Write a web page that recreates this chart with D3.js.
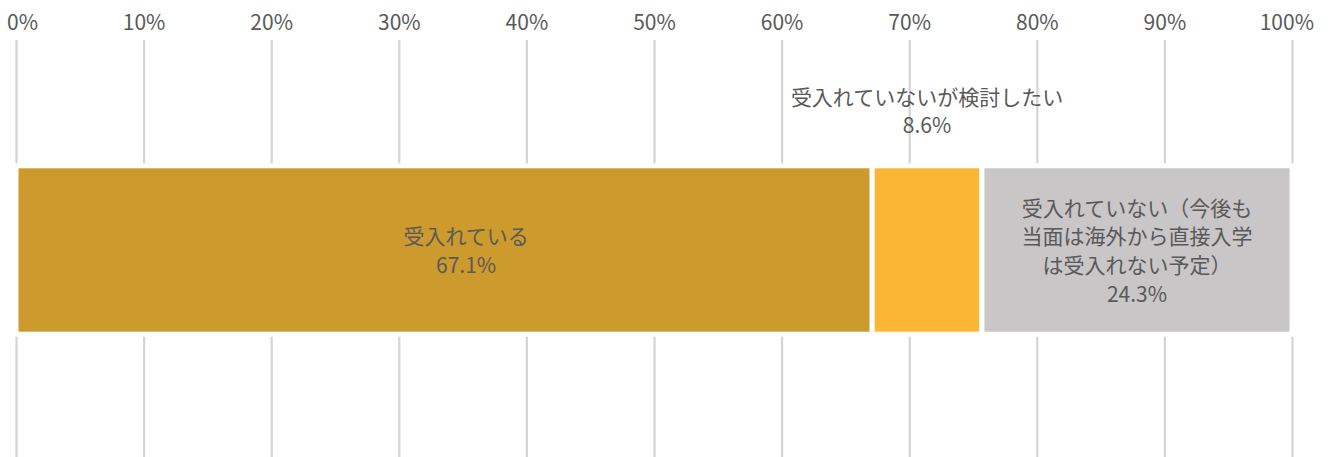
<!DOCTYPE html>
<html lang="ja">
<head>
<meta charset="utf-8">
<script src="https://cdn.jsdelivr.net/npm/d3@7"></script>
<style>
  html, body { margin: 0; padding: 0; background: #fff; }
  svg { display: block; font-family: "Noto Sans CJK JP", "Noto Sans", sans-serif; }
</style>
</head>
<body>
<svg id="chart" width="1330" height="457"></svg>
<script>
// Survey answers (one stacked 100% bar)
const categories = [
  "受入れている",
  "受入れていないが検討したい",
  "受入れていない（今後も当面は海外から直接入学は受入れない予定）"
];
const labelLines = [
  ["受入れている"],
  ["受入れていないが検討したい"],
  ["受入れていない（今後も", "当面は海外から直接入学", "は受入れない予定）"]
];
const values = [67.1, 8.6, 24.3];
const tickValues = [0, 10, 20, 30, 40, 50, 60, 70, 80, 90, 100];
const tickLabels = tickValues.map(d => d + "%");

// Styling / layout
const colors = ["#CD9A2D", "#FBB733", "#C8C6C7"];
const textColor = "#595959";
const gridColor = "#D4D4D4";
const fontSize = 21;
const lineHeight = 28.7;
const W = 1330, H = 457;
const plot = { left: 16, right: 1292, gridTop: 40, gridBottom: 457 };
// per-segment label placement: "inside" centred in the bar, "above" over the bar
const labelPlacement = ["inside", "above", "inside"];
const labelDx = [22, 0, 0];

const svg = d3.select("#chart");

const x = d3.scaleLinear().domain([0, 100]).range([plot.left, plot.right]);
const y = d3.scaleBand().domain(["all"]).range([165.8, 334.2]);

// Grid lines + percentage ticks along the top
const axis = d3.axisTop(x)
  .tickValues(tickValues)
  .tickFormat((d, i) => tickLabels[i])
  .tickSize(plot.gridBottom - plot.gridTop)
  .tickPadding(10);

const gAxis = svg.append("g")
  .attr("transform", `translate(0,${plot.gridBottom})`)
  .call(axis);
gAxis.select(".domain").remove();
gAxis.selectAll(".tick line")
  .attr("stroke", gridColor)
  .attr("stroke-width", 2.2);
gAxis.selectAll(".tick text")
  .attr("fill", textColor)
  .style("font-size", fontSize + "px")
  .style("font-family", "\"Noto Sans CJK JP\", \"Noto Sans\", sans-serif");

// keep end labels inside the canvas
gAxis.selectAll(".tick text").each(function () {
  const bb = this.getBBox();
  const tx = +d3.select(this.parentNode).attr("transform").match(/translate\(([-\d.]+)/)[1];
  const left = tx + bb.x, right = tx + bb.x + bb.width;
  if (left < 7) d3.select(this).attr("x", 7 - left);
  else if (right > 1314) d3.select(this).attr("x", 1314 - right);
});

// Stacked segments
const stacked = [];
let acc = 0;
values.forEach((v, i) => {
  stacked.push({ key: categories[i], start: acc, end: acc + v, value: v, i });
  acc += v;
});

svg.append("g")
  .selectAll("rect")
  .data(stacked)
  .join("rect")
  .attr("x", d => x(d.start))
  .attr("width", d => x(d.end) - x(d.start))
  .attr("y", y("all"))
  .attr("height", y.bandwidth())
  .attr("fill", d => colors[d.i])
  .attr("stroke", "#fff")
  .attr("stroke-width", 5);

// Data labels
const cy = y("all") + y.bandwidth() / 2;
const labels = svg.append("g")
  .selectAll("text")
  .data(stacked)
  .join("text")
  .attr("text-anchor", "middle")
  .attr("fill", textColor)
  .style("font-size", fontSize + "px");

labels.each(function (d) {
  const lines = labelLines[d.i].concat([d.value.toFixed(1) + "%"]);
  const n = lines.length;
  const cx = (x(d.start) + x(d.end)) / 2 + labelDx[d.i];
  let firstBaseline;
  if (labelPlacement[d.i] === "inside") {
    firstBaseline = cy - (n - 1) / 2 * lineHeight + 8.6;
  } else {
    // last line sits just above the bar
    firstBaseline = y("all") - 32.5 - (n - 1) * lineHeight;
  }
  d3.select(this).selectAll("tspan")
    .data(lines)
    .join("tspan")
    .attr("x", cx)
    .attr("y", (t, k) => firstBaseline + k * lineHeight)
    .text(t => t);
});
</script>
</body>
</html>
